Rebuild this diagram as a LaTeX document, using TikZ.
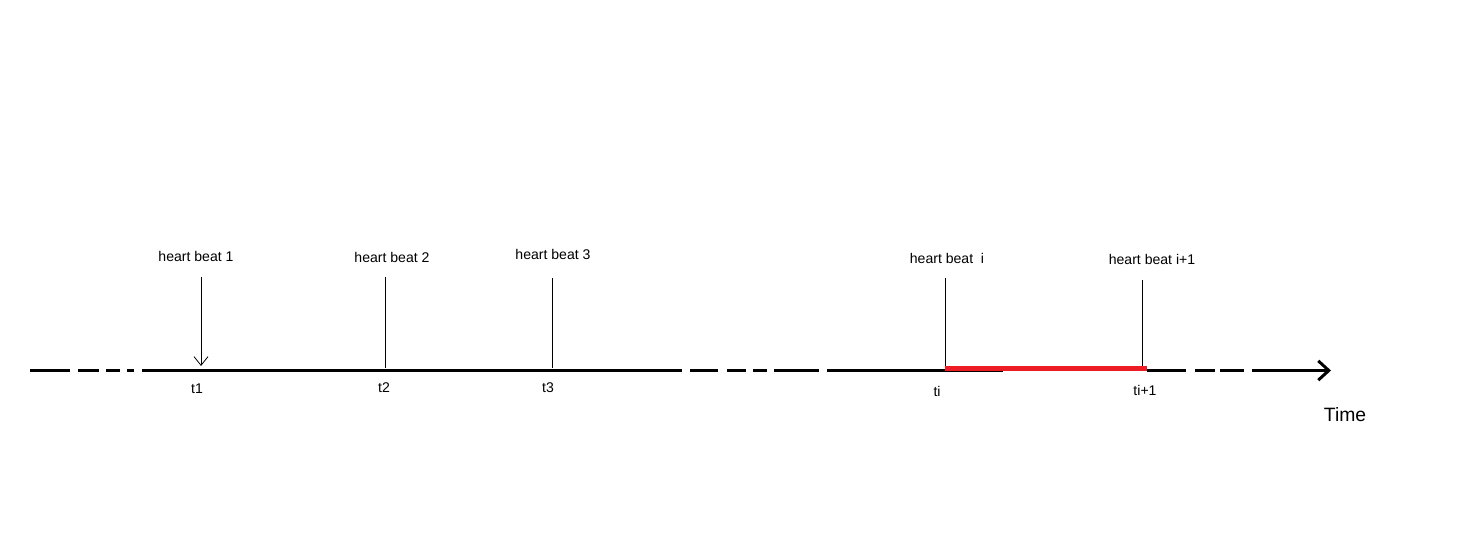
\documentclass[tikz,border=0pt]{standalone}
\usepackage{fontspec}
\setmainfont{Liberation Sans}
\usetikzlibrary{arrows.meta}
\definecolor{beatred}{HTML}{ED1C24}

\begin{document}
\begin{tikzpicture}[
  x=0.02cm, y=-0.02cm,
  >={Straight Barb[length=6pt, width=11pt]},
  axis/.style={line width=1.7pt, black},
  tick/.style={line width=0.45pt, black},
  beatlabel/.style={font=\fontsize{8}{10}\selectfont, inner sep=1pt},
  timelabel/.style={font=\fontsize{11}{13}\selectfont, inner sep=1pt},
]
\useasboundingbox (0,0) rectangle (1483,547);

% =============================================
% Heart beat labels
% =============================================
\node[beatlabel] (hb1) at (196,256) {heart beat 1};
\node[beatlabel] (hb2) at (392,257) {heart beat 2};
\node[beatlabel] (hb3) at (553,254) {heart beat 3};
\node[beatlabel] (hbi) at (947,258) {heart beat \ i};
\node[beatlabel] (hbj) at (1152,259) {heart beat i+1};

% Tick marks
\foreach \n/\x/\ya/\yb in {1/201/277/366, 2/385/277/368, 3/552/278/368, i/945/278/368, j/1142/280/368} {
  \coordinate (top\n) at (\x,\ya);
  \coordinate (bot\n) at (\x,\yb);
}
\draw[tick, -{Straight Barb[length=5pt, width=8pt]}] (top1) -- (bot1);
\foreach \n in {2,3,i,j} {
  \draw[tick] (top\n) -- (bot\n);
}

% =============================================
% Time axis
% =============================================
\foreach \a/\b in {30/70, 78/99, 106/120, 127/134, 142/682,
                   690/718, 727/746, 753/767, 774/819, 827/1003,
                   1147/1186, 1195/1215, 1220/1244} {
  \draw[axis] (\a,370.5) -- (\b,370.5);
}
\coordinate (tstart) at (1252,370.5);
\coordinate (tend) at (1331,370.5);
\draw[axis, ->] (tstart) -- (tend);

% Interval between beat i and i+1
\draw[beatred, line width=2.6pt] ([yshift=-0.2pt]boti) -- ([xshift=3pt, yshift=-0.2pt]botj);

% Time stamps
\node[beatlabel] (t1) at (197,389) {t1};
\node[beatlabel] (t2) at (384,388) {t2};
\node[beatlabel] (t3) at (548,388) {t3};
\node[beatlabel] (ti) at (937,391) {ti};
\node[beatlabel] (tj) at (1145,390) {ti+1};
\node[timelabel] (time) at (1345,415) {Time};

\end{tikzpicture}
\end{document}
